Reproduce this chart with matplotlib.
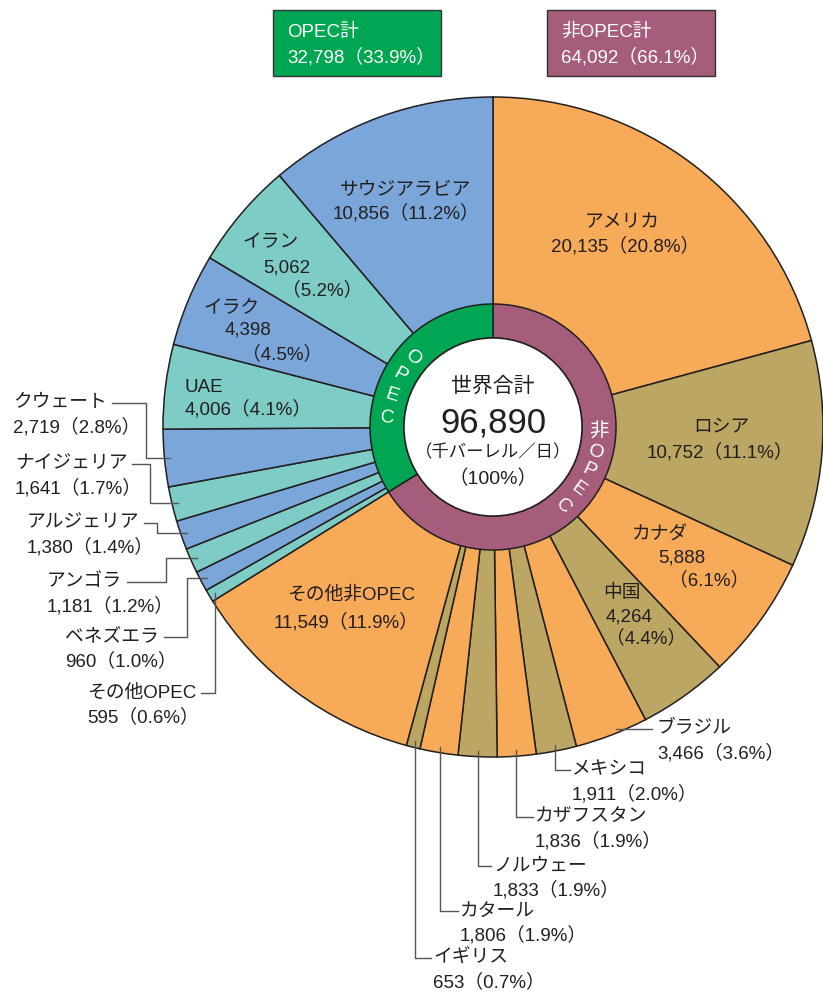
import math
import matplotlib
matplotlib.use("Agg")
import matplotlib.pyplot as plt
from matplotlib.patches import Rectangle, Circle

# latin glyphs from a Helvetica-like face, kana/kanji fall back to Noto CJK
plt.rcParams["font.family"] = ["Liberation Sans", "Noto Sans CJK JP", "DejaVu Sans"]

# data (clockwise from 12 o'clock)
non_opec_names = ["アメリカ", "ロシア", "カナダ", "中国", "ブラジル", "メキシコ",
                  "カザフスタン", "ノルウェー", "カタール", "イギリス", "その他非OPEC"]
non_opec_vals = [20135, 10752, 5888, 4264, 3466, 1911, 1836, 1833, 1806, 653, 11549]
non_opec_pct = [20.8, 11.1, 6.1, 4.4, 3.6, 2.0, 1.9, 1.9, 1.9, 0.7, 11.9]

opec_names = ["その他OPEC", "ベネズエラ", "アンゴラ", "アルジェリア", "ナイジェリア",
              "クウェート", "UAE", "イラク", "イラン", "サウジアラビア"]
opec_vals = [595, 960, 1181, 1380, 1641, 2719, 4006, 4398, 5062, 10856]
opec_pct = [0.6, 1.0, 1.2, 1.4, 1.7, 2.8, 4.1, 4.5, 5.2, 11.2]

group_names = ["非OPEC計", "OPEC計"]
group_vals = [64092, 32798]
group_pct = [66.1, 33.9]
world_total = 96890

# colours
ORANGE, OLIVE = "#F7AA58", "#BBA663"
BLUE, TEAL = "#7BA6D9", "#7DCCC6"
GREEN, MAUVE = "#00A651", "#A65D7C"
INK = "#231F20"
LEADER = "#555555"

W, H = 823, 992
cx, cy, R = 493, 427, 330
ring_out, ring_in = 123, 89

fig = plt.figure(figsize=(W / 100, H / 100), dpi=100)
ax = fig.add_axes([0, 0, 1, 1])

names = non_opec_names + opec_names
vals = non_opec_vals + opec_vals
pcts = non_opec_pct + opec_pct
colors = [ORANGE if i % 2 == 0 else OLIVE for i in range(len(non_opec_vals))]
colors += [TEAL if i % 2 == 0 else BLUE for i in range(len(opec_vals))]

# y axis is inverted below, so counterclock=True is drawn clockwise
ax.pie(vals, colors=colors, radius=R, center=(cx, cy), startangle=-90,
       counterclock=True, wedgeprops=dict(edgecolor=INK, linewidth=1.1))
ax.pie(group_vals, colors=[MAUVE, GREEN], radius=ring_out, center=(cx, cy),
       startangle=-90, counterclock=True,
       wedgeprops=dict(edgecolor=INK, linewidth=1.1, width=ring_out - ring_in))
ax.add_patch(Circle((cx, cy), ring_in, facecolor="white", edgecolor=INK, lw=1.1, zorder=3))

ax.set_xlim(0, W)
ax.set_ylim(H, 0)
ax.set_aspect("equal")
ax.axis("off")

total = sum(vals)
mid_angle = {}
cum = 0
for n, v in zip(names, vals):
    mid_angle[n] = math.radians(-90 + 360 * (cum + v / 2) / total)
    cum += v
value_of = dict(zip(names, vals))
pct_of = dict(zip(names, pcts))

FS = 13.5


def fmt(n):
    return f"{value_of[n]:,}"


def pstr(n):
    return f"（{pct_of[n]:.1f}%）"


# labels inside wedges: list of (kind, x, y, ha)
inside = {
    "サウジアラビア": [("name", 405, 190, "center"), ("both", 406, 213, "center")],
    "イラン": [("name", 271, 243, "center"), ("val", 287, 268, "center"), ("pct", 322, 290, "center")],
    "イラク": [("name", 232, 308, "center"), ("val", 248, 330, "center"), ("pct", 282, 354, "center")],
    "UAE": [("name", 185, 387, "left"), ("both", 185, 409, "left")],
    "アメリカ": [("name", 622, 223, "center"), ("both", 625, 246, "center")],
    "ロシア": [("name", 721, 428, "center"), ("both", 720, 452, "center")],
    "カナダ": [("name", 660, 535, "center"), ("val", 682, 558, "center"), ("pct", 709, 580, "center")],
    "中国": [("name", 622, 593, "center"), ("val", 629, 617, "center"), ("pct", 646, 638, "center")],
    "その他非OPEC": [("name", 351, 595, "center"), ("both", 346, 622, "center")],
}
for n, lines in inside.items():
    for kind, x, y, ha in lines:
        s = {"name": n, "val": fmt(n), "pct": pstr(n), "both": fmt(n) + pstr(n)}[kind]
        ax.text(x, y, s, ha=ha, va="center", fontsize=FS, color=INK, zorder=5)

# labels outside with elbow leaders: text x, text y, elbow x (None = straight down)
left_out = {
    "クウェート": (13, 403, 146),
    "ナイジェリア": (15, 464, 150),
    "アルジェリア": (27, 523, 157),
    "アンゴラ": (47, 582, 166),
    "ベネズエラ": (65, 637, 187),
    "その他OPEC": (87, 693, None),
}
bottom_out = {
    "ブラジル": (657, 729),
    "メキシコ": (572, 770),
    "カザフスタン": (535, 817),
    "ノルウェー": (493, 866),
    "カタール": (460, 911),
    "イギリス": (433, 958),
}
anchor_r = 324

fig.canvas.draw()
renderer = fig.canvas.get_renderer()
inv = ax.transData.inverted()

for n, (tx, ty, ex) in left_out.items():
    t = ax.text(tx, ty, n, ha="left", va="center", fontsize=FS, color=INK)
    ax.text(tx, ty + 24, fmt(n) + pstr(n), ha="left", va="center", fontsize=FS, color=INK)
    bb = t.get_window_extent(renderer)
    x_end = inv.transform((bb.x1, bb.y0))[0] + 5
    a = mid_angle[n]
    axx, ayy = cx + anchor_r * math.cos(a), cy + anchor_r * math.sin(a)
    if ex is None:
        ex = axx
    ax.plot([x_end, ex, ex, axx], [ty, ty, ayy, ayy], color=LEADER, lw=1.0, zorder=6)

for n, (tx, ty) in bottom_out.items():
    ax.text(tx, ty, n, ha="left", va="center", fontsize=FS, color=INK)
    ax.text(tx, ty + 24, fmt(n) + pstr(n), ha="left", va="center", fontsize=FS, color=INK)
    a = mid_angle[n]
    axx, ayy = cx + anchor_r * math.cos(a), cy + anchor_r * math.sin(a)
    if n == "ブラジル":
        ax.plot([axx + 6, tx - 5], [ty, ty], color=LEADER, lw=1.0, zorder=6)
    else:
        ax.plot([axx, axx, tx - 2], [ayy, ty, ty], color=LEADER, lw=1.0, zorder=6)

# centre text
ax.text(cx, 386, "世界合計", ha="center", va="center", fontsize=15, color=INK, zorder=5)
ax.text(cx, 423, f"{world_total:,}", ha="center", va="center", fontsize=25, color=INK, zorder=5)
ax.text(cx, 452, "（千バーレル／日）", ha="center", va="center", fontsize=12.5, color=INK, zorder=5)
ax.text(cx, 479, "（100%）", ha="center", va="center", fontsize=14, color=INK, zorder=5)

# ring lettering
ring_mid = (ring_out + ring_in) / 2
for ch, th in zip("OPEC", [139, 151, 163, 175]):
    r = math.radians(th)
    ax.text(cx + ring_mid * math.cos(r), cy - ring_mid * math.sin(r), ch,
            rotation=th - 180, ha="center", va="center", fontsize=14,
            color="white", zorder=5, rotation_mode="anchor")
for ch, th in zip(["非", "O", "P", "E", "C"], [-2.6, -13.7, -24.5, -36.1, -48.5]):
    r = math.radians(th)
    ax.text(cx + ring_mid * math.cos(r), cy - ring_mid * math.sin(r), ch,
            rotation=0 if ch == "非" else th, ha="center", va="center",
            fontsize=14, color="white", zorder=5, rotation_mode="anchor")

# summary boxes
boxes = [(273, GREEN, 1), (547, MAUVE, 0)]
for bx, col, gi in boxes:
    ax.add_patch(Rectangle((bx, 10), 168, 66, facecolor=col, edgecolor="#333333", lw=1.0))
    ax.text(bx + 14, 32, group_names[gi], ha="left", va="center", fontsize=FS, color="white")
    ax.text(bx + 14, 57, f"{group_vals[gi]:,}（{group_pct[gi]:.1f}%）",
            ha="left", va="center", fontsize=FS, color="white")

fig.savefig("out.png", dpi=100)
